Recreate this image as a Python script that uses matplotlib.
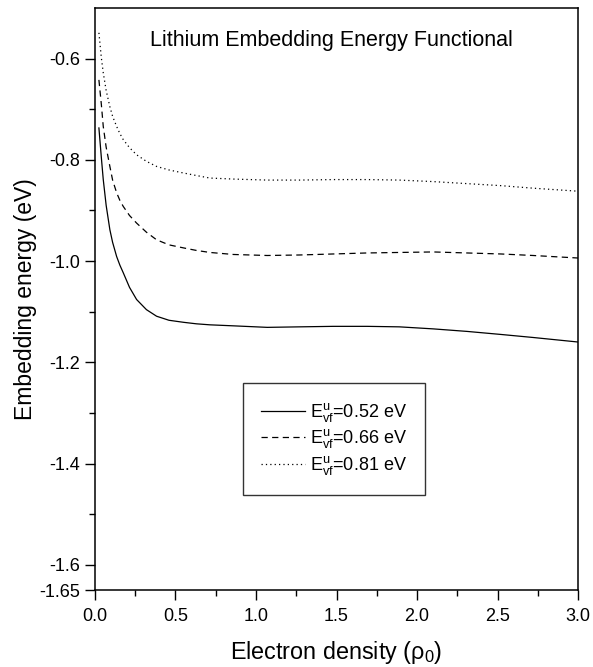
import matplotlib
matplotlib.use("Agg")
import matplotlib.pyplot as plt
import numpy as np

plt.rcParams['font.family'] = ['Liberation Sans', 'DejaVu Sans']
plt.rcParams['mathtext.fontset'] = 'custom'
plt.rcParams['mathtext.rm'] = 'Liberation Sans'
plt.rcParams['mathtext.it'] = 'Liberation Sans'
plt.rcParams['axes.unicode_minus'] = False

# values
rho = [0.025, 0.04, 0.052, 0.07, 0.093, 0.11, 0.135, 0.155, 0.176, 0.215,
       0.259, 0.32, 0.383, 0.46, 0.55, 0.63, 0.714, 0.86, 1.07, 1.27,
       1.48, 1.69, 1.89, 2.10, 2.31, 2.52, 2.72, 3.0]
e052 = [-0.737, -0.795, -0.839, -0.890, -0.938, -0.963, -0.991, -1.008, -1.023, -1.052,
        -1.076, -1.096, -1.109, -1.117, -1.121, -1.124, -1.126, -1.128, -1.131, -1.130,
        -1.129, -1.129, -1.130, -1.134, -1.139, -1.145, -1.151, -1.160]
e066 = [-0.642, -0.690, -0.734, -0.775, -0.813, -0.840, -0.865, -0.880, -0.892, -0.910,
        -0.925, -0.943, -0.958, -0.968, -0.974, -0.979, -0.983, -0.987, -0.989, -0.988,
        -0.986, -0.984, -0.983, -0.982, -0.984, -0.986, -0.989, -0.994]
e081 = [-0.549, -0.598, -0.628, -0.663, -0.695, -0.714, -0.734, -0.748, -0.760, -0.776,
        -0.790, -0.803, -0.813, -0.820, -0.826, -0.831, -0.836, -0.838, -0.840, -0.840,
        -0.839, -0.839, -0.840, -0.843, -0.847, -0.851, -0.856, -0.862]
labels = [r'$\mathregular{E^u_{vf}}$=0.52 eV',
          r'$\mathregular{E^u_{vf}}$=0.66 eV',
          r'$\mathregular{E^u_{vf}}$=0.81 eV']
yticks = [-0.6, -0.8, -1.0, -1.2, -1.4, -1.6, -1.65]
ytick_labels = ['-0.6', '-0.8', '-1.0', '-1.2', '-1.4', '-1.6', '-1.65']

fig = plt.figure(figsize=(5.93, 6.67), dpi=100)
ax = fig.add_axes([0.160, 0.1154, 0.815, 0.8726])

ax.plot(rho, e052, color='black', lw=0.9, ls='-', label=labels[0])
ax.plot(rho, e066, color='black', lw=0.9, ls=(0, (5, 3.5)), label=labels[1])
ax.plot(rho, e081, color='black', lw=0.9, ls=(0, (1, 2.5)), label=labels[2])

ax.set_xlim(0, 3.0)
ax.set_ylim(-1.65, -0.5)
ax.set_xticks(np.arange(0, 3.01, 0.5))
ax.set_xticklabels(['0.0', '0.5', '1.0', '1.5', '2.0', '2.5', '3.0'])
ax.set_xticks(np.arange(0.25, 3.0, 0.5), minor=True)
ax.set_yticks(yticks)
ax.set_yticklabels(ytick_labels)
ax.set_yticks([-0.7, -0.9, -1.1, -1.3, -1.5], minor=True)
ax.tick_params(which='major', direction='out', length=7, width=1, labelsize=13)
ax.tick_params(axis='x', which='major', pad=6)
ax.tick_params(which='minor', direction='out', length=4, width=1)
for s in ax.spines.values():
    s.set_linewidth(1.1)

ax.set_xlabel(r'Electron density ($\mathregular{\rho_0}$)', fontsize=16.8, labelpad=10)
ax.set_ylabel('Embedding energy (eV)', fontsize=16.5, labelpad=2)

ax.text(0.49, 0.945, 'Lithium Embedding Energy Functional', transform=ax.transAxes,
        ha='center', va='center', fontsize=15.5)

leg = ax.legend(loc='upper left', bbox_to_anchor=(0.306, 0.356), fontsize=13,
                frameon=True, fancybox=False, edgecolor='black', handlelength=2.45,
                handletextpad=0.3, borderpad=1.0, labelspacing=0.2, borderaxespad=0)
leg.get_frame().set_linewidth(1.0)

fig.savefig('out.png', dpi=100)
